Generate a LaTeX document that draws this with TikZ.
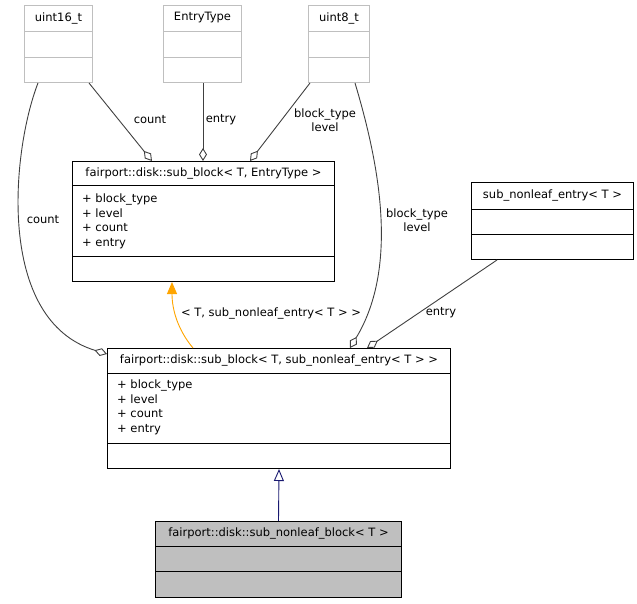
\documentclass[tikz,border=0pt]{standalone}
\usepackage{fontspec}
\setmainfont{DejaVu Sans}
\usetikzlibrary{arrows.meta,calc}
\definecolor{edgegray}{HTML}{404040}
\definecolor{boxgray}{HTML}{BFBFBF}
\definecolor{lgray}{HTML}{BFBFBF}
\definecolor{navyc}{HTML}{191970}
\definecolor{orng}{HTML}{FFA500}
\begin{document}
\begin{tikzpicture}[x=1pt,y=-1pt,
  font=\fontsize{11.5}{14.5}\selectfont,
  umlbox/.style={draw=black, line width=1pt, rectangle, inner sep=0pt, anchor=north west},
  graybox/.style={umlbox, draw=lgray},
  txt/.style={inner sep=0pt, text=black},
  members/.style={inner sep=0pt, anchor=north west, align=left, text=black},
  edge/.style={draw=edgegray, line width=0.9pt},
  agg/.style={edge, -{Diamond[fill=white, length=13pt, width=8pt, line width=0.9pt]}},
]
\useasboundingbox (0,0) rectangle (637,603);

% --- top gray boxes ---
\node[graybox, minimum width=68pt, minimum height=77pt] (u16) at (24,5) {};
\draw[lgray, line width=1pt] ($(u16.north west)+(0,26)$) -- ($(u16.north east)+(0,26)$);
\draw[lgray, line width=1pt] ($(u16.north west)+(0,52)$) -- ($(u16.north east)+(0,52)$);
\node[txt] (u16t) at ($(u16.north)+(0,13)$) {uint16\_t};

\node[graybox, minimum width=78pt, minimum height=77pt] (ent) at (163,5) {};
\draw[lgray, line width=1pt] ($(ent.north west)+(0,26)$) -- ($(ent.north east)+(0,26)$);
\draw[lgray, line width=1pt] ($(ent.north west)+(0,52)$) -- ($(ent.north east)+(0,52)$);
\node[txt] (entt) at ($(ent.north)+(0,13)$) {EntryType};

\node[graybox, minimum width=61pt, minimum height=77pt] (u8) at (308,5) {};
\draw[lgray, line width=1pt] ($(u8.north west)+(0,26)$) -- ($(u8.north east)+(0,26)$);
\draw[lgray, line width=1pt] ($(u8.north west)+(0,52)$) -- ($(u8.north east)+(0,52)$);
\node[txt] (u8t) at ($(u8.north)+(0,13)$) {uint8\_t};

% --- sub_block<T, EntryType> ---
\node[umlbox, minimum width=262pt, minimum height=120pt] (sb1) at (72,161) {};
\draw[line width=1pt] ($(sb1.north west)+(0,24)$) -- ($(sb1.north east)+(0,24)$);
\draw[line width=1pt] ($(sb1.north west)+(0,95)$) -- ($(sb1.north east)+(0,95)$);
\node[txt] (sb1t) at ($(sb1.north)+(0,12)$) {fairport::disk::sub\_block< T, EntryType >};
\node[members] (sb1m) at ($(sb1.north west)+(10,33)$) {+ block\_type\\+ level\\+ count\\+ entry};

% --- sub_nonleaf_entry<T> ---
\node[umlbox, minimum width=162pt, minimum height=77pt] (sne) at (471,182) {};
\draw[line width=1pt] ($(sne.north west)+(0,27)$) -- ($(sne.north east)+(0,27)$);
\draw[line width=1pt] ($(sne.north west)+(0,52)$) -- ($(sne.north east)+(0,52)$);
\node[txt] (snet) at ($(sne.north)+(0,13)$) {sub\_nonleaf\_entry< T >};

% --- sub_block<T, sub_nonleaf_entry<T>> ---
\node[umlbox, minimum width=343pt, minimum height=120pt] (sb2) at (107,348) {};
\draw[line width=1pt] ($(sb2.north west)+(0,25)$) -- ($(sb2.north east)+(0,25)$);
\draw[line width=1pt] ($(sb2.north west)+(0,95)$) -- ($(sb2.north east)+(0,95)$);
\node[txt] (sb2t) at ($(sb2.north)+(0,12)$) {fairport::disk::sub\_block< T, sub\_nonleaf\_entry< T > >};
\node[members] (sb2m) at ($(sb2.north west)+(10,32)$) {+ block\_type\\+ level\\+ count\\+ entry};

% --- sub_nonleaf_block<T> ---
\node[umlbox, fill=boxgray, minimum width=246pt, minimum height=76pt] (snb) at (155,521) {};
\draw[line width=1pt] ($(snb.north west)+(0,25)$) -- ($(snb.north east)+(0,25)$);
\draw[line width=1pt] ($(snb.north west)+(0,50)$) -- ($(snb.north east)+(0,50)$);
\node[txt] (snbt) at ($(snb.north)+(0,12)$) {fairport::disk::sub\_nonleaf\_block< T >};

% --- aggregation edges to sb1 ---
\draw[agg] ($(u16.south west)+(65,0)$) -- ($(sb1.north west)+(80,0)$);
\node[txt] (l1) at (150,120) {count};
\draw[agg] ($(ent.south west)+(40,0)$) -- ($(sb1.north west)+(131,0)$);
\node[txt] (l2) at (221,120) {entry};
\draw[agg] ($(u8.south west)+(2,0)$) -- ($(sb1.north west)+(178,0)$);
\node[txt, align=center] (l3) at (325,120) {block\_type\\level};

% --- aggregation edges to sb2 ---
\draw[agg] ($(u16.south west)+(14,0)$) .. controls (12,150) and (-5,320) .. ($(sb2.north west)+(0,6)$);
\node[txt] (l4) at (43,220) {count};
\draw[agg] ($(u8.south west)+(47,0)$) .. controls (378,160) and (400,265) .. ($(sb2.north west)+(243,0)$);
\node[txt, align=center] (l5) at (417,220) {block\_type\\level};
\draw[agg] ($(sne.south west)+(26,0)$) -- ($(sb2.north west)+(260,0)$);
\node[txt] (l6) at (441,313) {entry};

% --- inheritance ---
\draw[draw=orng, line width=0.9pt, -{Triangle[fill=orng, length=12pt, width=10pt]}]
  ($(sb2.north west)+(86,0)$) .. controls (178,330) and (172,310) .. ($(sb1.south west)+(100,0)$);
\node[txt] (l7) at (271,313) {< T, sub\_nonleaf\_entry< T > >};
\draw[draw=navyc, line width=0.9pt, -{Triangle[open, fill=white, length=12pt, width=10pt, line width=0.9pt]}]
  (snb.north) -- (sb2.south);
\end{tikzpicture}
\end{document}
